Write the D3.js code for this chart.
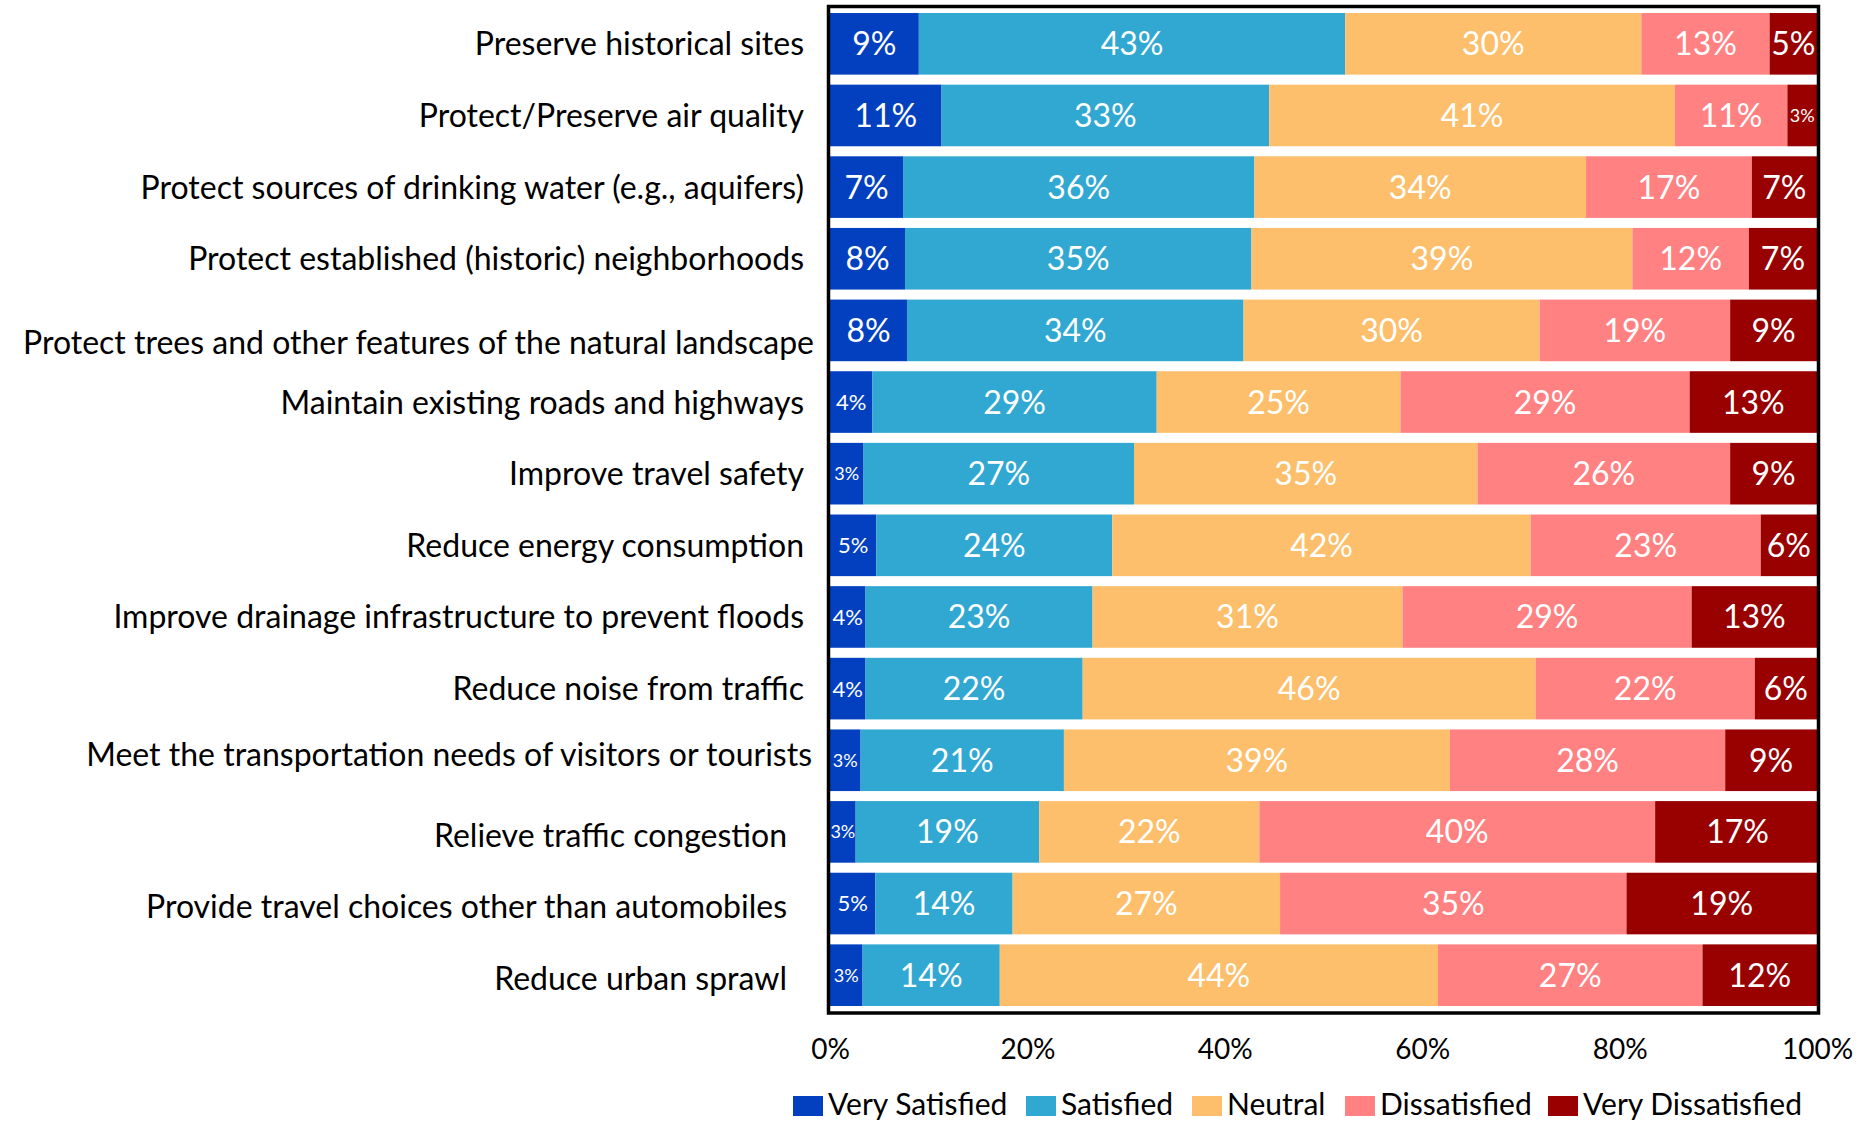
<!DOCTYPE html>
<html>
<head>
<meta charset="utf-8">
<script src="https://cdn.jsdelivr.net/npm/d3@7"></script>
<style>
	body { margin: 0; background: #fff; }
	svg text { font-family: Lato, "Open Sans", sans-serif; }
</style>
</head>
<body>
<script>
// survey items, top to bottom
var categories = [
	"Preserve historical sites",
	"Protect/Preserve air quality",
	"Protect sources of drinking water (e.g., aquifers)",
	"Protect established (historic) neighborhoods",
	"Protect trees and other features of the natural landscape",
	"Maintain existing roads and highways",
	"Improve travel safety",
	"Reduce energy consumption",
	"Improve drainage infrastructure to prevent floods",
	"Reduce noise from traffic",
	"Meet the transportation needs of visitors or tourists",
	"Relieve traffic congestion",
	"Provide travel choices other than automobiles",
	"Reduce urban sprawl"
];

var seriesNames = ["Very Satisfied", "Satisfied", "Neutral", "Dissatisfied", "Very Dissatisfied"];

// percentages per series (same order as categories)
var verySatisfied    = [9.0, 11.3, 7.4, 7.6, 7.8, 4.3, 3.4, 4.7, 3.6, 3.6, 3.1, 2.6, 4.6, 3.3];
var satisfied        = [43.2, 33.2, 35.6, 35.1, 34.1, 28.8, 27.4, 23.9, 23.0, 22.0, 20.6, 18.6, 13.9, 13.9];
var neutral          = [30.0, 41.1, 33.6, 38.6, 30.0, 24.7, 34.8, 42.4, 31.4, 45.9, 39.1, 22.3, 27.1, 44.4];
var dissatisfied     = [13.0, 11.4, 16.8, 11.8, 19.3, 29.3, 25.6, 23.3, 29.3, 22.2, 27.9, 40.1, 35.1, 26.8];
var veryDissatisfied = [4.8, 3.0, 6.6, 6.9, 8.8, 12.9, 8.8, 5.7, 12.7, 6.3, 9.3, 16.7, 19.3, 11.6];

var xTicks = [0, 20, 40, 60, 80, 100];

var colors = ["#0240c0", "#31a8d1", "#fdbf6b", "#ff8182", "#990000"];

// small hand adjustments of the item labels (the original places a few of them off-line)
var labelShiftX = [0, 0, 0, 0, 10, 0, 0, 0, 0, 0, 8, -17, -17, -17];
var labelShiftY = [0, 0, 0, 0, 12, 0, 0, 0, 0, 0, -6, 4, 3, 3];

var W = 1874, H = 1126;
var margin = {left: 830, right: 57, top: 8, bottom: 115};
var width = W - margin.left - margin.right,
	height = H - margin.top - margin.bottom;

var allSeries = [verySatisfied, satisfied, neutral, dissatisfied, veryDissatisfied];

// build rows for the stack
var rows = categories.map(function(c, i) {
	var r = {category: c};
	seriesNames.forEach(function(s, j) { r[s] = allSeries[j][i]; });
	return r;
});

var stacked = d3.stack().keys(seriesNames)(rows);

var x = d3.scaleLinear().domain([0, 100]).range([0, width]);
var y = d3.scaleBand().domain(categories).range([0, height])
	.paddingInner(0.14).paddingOuter(0.07);

var svg = d3.select("body").append("svg")
	.attr("width", W)
	.attr("height", H)
	.append("g")
	.attr("transform", "translate(" + margin.left + "," + margin.top + ")");

svg.append("clipPath").attr("id", "plotclip")
	.append("rect")
	.attr("x", 0).attr("y", -4)
	.attr("width", width).attr("height", height + 8);

// bars
var layers = svg.selectAll(".layer")
	.data(stacked)
	.enter().append("g")
	.attr("class", "layer")
	.attr("fill", function(d, i) { return colors[i]; });

layers.selectAll("rect")
	.data(function(d) { return d; })
	.enter().append("rect")
	.attr("x", function(d) { return x(d[0]); })
	.attr("y", function(d) { return y(d.data.category); })
	.attr("width", function(d) { return x(d[1]) - x(d[0]); })
	.attr("height", y.bandwidth());

// value labels
var labelSize = function(v) {
	if (v < 3.5) return 18;
	if (v < 4.75) return 22;
	return 32;
};

var labels = svg.append("g").attr("clip-path", "url(#plotclip)");
stacked.forEach(function(layer) {
	labels.selectAll(null)
		.data(layer)
		.enter().append("text")
		.attr("x", function(d) { return (x(d[0]) + x(d[1])) / 2; })
		.attr("y", function(d) { return y(d.data.category) + y.bandwidth() / 2; })
		.attr("dy", "0.36em")
		.attr("text-anchor", "middle")
		.attr("fill", "#fff")
		.attr("font-size", function(d) { return labelSize(d[1] - d[0]); })
		.text(function(d) { return Math.round(d[1] - d[0]) + "%"; });
});

// frame
svg.append("rect")
	.attr("x", -1.5)
	.attr("y", -1.5)
	.attr("width", width + 3)
	.attr("height", height + 3.5)
	.attr("fill", "none")
	.attr("stroke", "#000")
	.attr("stroke-width", 3.5);

// item labels
svg.append("g")
	.selectAll("text")
	.data(categories)
	.enter().append("text")
	.attr("x", function(d, i) { return -26 + labelShiftX[i]; })
	.attr("y", function(d, i) { return y(d) + y.bandwidth() / 2 + labelShiftY[i]; })
	.attr("dy", "0.36em")
	.attr("text-anchor", "end")
	.attr("font-size", 32)
	.attr("fill", "#000")
	.text(function(d) { return d; });

// x axis
var xAxis = svg.append("g")
	.attr("transform", "translate(0," + height + ")")
	.call(d3.axisBottom(x).tickValues(xTicks).tickSize(0).tickPadding(28)
		.tickFormat(function(d) { return d + "%"; }));
xAxis.select(".domain").remove();
xAxis.selectAll("text")
	.attr("font-size", 28)
	.attr("font-family", "Lato")
	.attr("fill", "#000");

// legend
var legendX = [793, 1026, 1192, 1345, 1548];
var legend = svg.append("g")
	.attr("transform", "translate(" + (-margin.left) + "," + (1096 - margin.top) + ")");

seriesNames.forEach(function(s, i) {
	legend.append("rect")
		.attr("x", legendX[i])
		.attr("y", 0)
		.attr("width", 30)
		.attr("height", 20)
		.attr("fill", colors[i]);
	legend.append("text")
		.attr("x", legendX[i] + 35)
		.attr("y", 19)
		.attr("font-size", 30)
		.attr("fill", "#000")
		.text(s);
});
</script>
</body>
</html>
